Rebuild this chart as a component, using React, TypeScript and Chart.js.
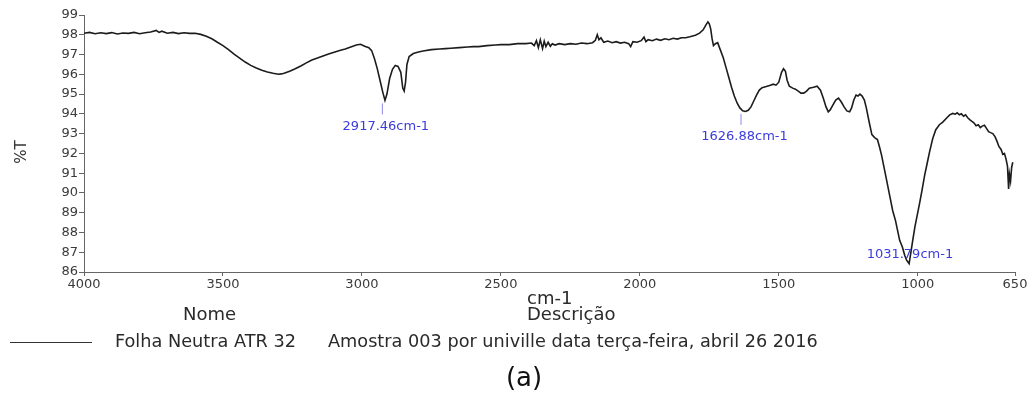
import React, { useEffect, useRef } from "react";
import { Chart, registerables } from "chart.js";

Chart.register(...registerables);

// ---- data ----
const wavenumbers: number[] = [
  4000, 3980, 3960, 3940, 3920, 3900, 3880, 3860, 3840, 3820, 3800, 3780, 3760, 3740, 3730, 3720, 3700, 3680, 3660, 3640,
  3620, 3600, 3580, 3560, 3540, 3520, 3500, 3480, 3460, 3440, 3420, 3400, 3380, 3360, 3340, 3320, 3300, 3290, 3280, 3260,
  3240, 3220, 3200, 3180, 3160, 3140, 3120, 3100, 3080, 3060, 3040, 3020, 3005, 2990, 2975, 2965, 2955, 2945, 2935, 2925,
  2917, 2910, 2900, 2890, 2880, 2870, 2860, 2853, 2848, 2843, 2838, 2830, 2815, 2800, 2780, 2750, 2720, 2700, 2680, 2650,
  2620, 2600, 2580, 2550, 2520, 2500, 2470, 2440, 2410, 2390, 2380, 2372, 2365, 2358, 2350, 2344, 2338, 2330, 2322, 2315,
  2305, 2290, 2270, 2250, 2230, 2210, 2190, 2170, 2160, 2153, 2147, 2140, 2130, 2115, 2100, 2085, 2070, 2055, 2040, 2033,
  2025, 2010, 1995, 1985, 1978, 1970, 1955, 1940, 1925, 1910, 1895, 1880, 1865, 1850, 1835, 1820, 1800, 1785, 1772, 1762,
  1755, 1750, 1745, 1740, 1735, 1728, 1720, 1712, 1700, 1690, 1680, 1670, 1660, 1650, 1640, 1630, 1620, 1610, 1600, 1590,
  1580, 1570, 1560, 1545, 1530, 1520, 1510, 1500, 1490, 1483, 1476, 1470, 1462, 1450, 1440, 1430, 1420, 1410, 1400, 1390,
  1375, 1362, 1350, 1340, 1330, 1322, 1315, 1305, 1295, 1285, 1275, 1265, 1255, 1245, 1238, 1230, 1222, 1215, 1208, 1200,
  1192, 1185, 1175, 1165, 1155, 1145, 1137, 1130, 1120, 1112, 1100, 1090, 1080, 1065, 1055, 1047, 1040, 1031, 1025, 1018,
  1010, 1000, 993, 985, 975, 966, 957, 946, 935, 922, 910, 895, 885, 874, 865, 858, 850, 843, 835, 828,
  820, 812, 805, 798, 790, 782, 775, 768, 760, 752, 745, 738, 730, 722, 715, 708, 700, 694, 688, 682,
  677, 673, 670, 666, 662, 658,
];

const transmittance: number[] = [
  98.08, 98.12, 98.05, 98.1, 98.06, 98.11, 98.04, 98.09, 98.07, 98.12, 98.05, 98.1, 98.14, 98.22, 98.12, 98.18, 98.08, 98.12, 98.06, 98.1,
  98.07, 98.08, 98.02, 97.92, 97.8, 97.62, 97.45, 97.25, 97.02, 96.82, 96.62, 96.45, 96.32, 96.2, 96.12, 96.05, 96.0, 96.02, 96.05, 96.15,
  96.28, 96.42, 96.58, 96.72, 96.82, 96.93, 97.03, 97.12, 97.2, 97.28, 97.38, 97.48, 97.52, 97.42, 97.35, 97.2, 96.8, 96.3, 95.7, 95.1,
  94.68, 95.0, 95.8, 96.25, 96.45, 96.4, 96.1, 95.3, 95.15, 95.6, 96.5, 96.9, 97.05, 97.12, 97.18, 97.25, 97.28, 97.3, 97.32, 97.35,
  97.38, 97.4, 97.4, 97.45, 97.48, 97.5, 97.5, 97.55, 97.55, 97.58, 97.45, 97.7, 97.35, 97.75, 97.3, 97.68, 97.4, 97.62, 97.42, 97.55,
  97.48, 97.55, 97.5, 97.55, 97.52, 97.58, 97.55, 97.6, 97.72, 98.0, 97.75, 97.85, 97.62, 97.68, 97.6, 97.65, 97.58, 97.62, 97.55, 97.4,
  97.65, 97.62, 97.7, 97.88, 97.65, 97.75, 97.7, 97.78, 97.72, 97.8, 97.75, 97.82, 97.78, 97.85, 97.85, 97.9, 97.98, 98.08, 98.25, 98.5,
  98.65, 98.55, 98.3, 97.8, 97.45, 97.55, 97.6, 97.3, 96.85, 96.35, 95.85, 95.35, 94.9, 94.55, 94.3, 94.15, 94.12, 94.18, 94.35, 94.65,
  94.95, 95.2, 95.32, 95.38, 95.45, 95.5, 95.45, 95.6, 96.1, 96.28, 96.15, 95.7, 95.4, 95.3, 95.25, 95.15, 95.05, 95.05, 95.15, 95.3,
  95.35, 95.4, 95.2, 94.8, 94.35, 94.1, 94.2, 94.45, 94.7, 94.8, 94.6, 94.35, 94.15, 94.1, 94.3, 94.7, 94.95, 94.9, 95.0, 94.9,
  94.7, 94.3, 93.6, 92.95, 92.8, 92.7, 92.3, 91.9, 91.2, 90.65, 89.8, 89.1, 88.6, 87.6, 87.25, 86.85, 86.6, 86.42, 86.95, 87.6,
  88.3, 89.0, 89.5, 90.1, 90.9, 91.5, 92.1, 92.75, 93.2, 93.45, 93.58, 93.8, 93.95, 94.02, 93.98, 94.05, 93.95, 94.0, 93.88, 93.95,
  93.8, 93.7, 93.62, 93.55, 93.4, 93.45, 93.3, 93.38, 93.42, 93.25, 93.1, 93.05, 93.0, 92.85, 92.62, 92.35, 92.2, 91.95, 92.0, 91.7,
  91.35, 90.2, 90.95, 90.6, 91.3, 91.55,
];

const xTickValues: number[] = [4000, 3500, 3000, 2500, 2000, 1500, 1000, 650];
const yMin = 86;
const yMax = 99;

const peakWavenumbers: number[] = [2917.46, 1626.88, 1031.79];
const peakLabels: string[] = ["2917.46cm-1", "1626.88cm-1", "1031.79cm-1"];

const yAxisTitle = "%T";
const xAxisTitle = "cm-1";
const nameHeader = "Nome";
const descHeader = "Descrição";
const seriesName = "Folha Neutra ATR 32";
const seriesDesc = "Amostra 003 por univille data terça-feira, abril 26 2016";
const caption = "(a)";

const FONT = '"DejaVu Sans", sans-serif';

const overlayPlugin = {
  id: "overlay",
  afterDraw(chart: any) {
    const { ctx, chartArea, scales } = chart;
    const xs = scales.x;
    const ys = scales.y;
    ctx.save();

    // peak annotations
    ctx.font = `13px ${FONT}`;
    ctx.textAlign = "center";
    ctx.textBaseline = "middle";
    peakWavenumbers.forEach((wn, i) => {
      let best = 0;
      let bestD = Infinity;
      wavenumbers.forEach((w, j) => {
        const d = Math.abs(w - wn);
        if (d < bestD) {
          bestD = d;
          best = j;
        }
      });
      const px = xs.getPixelForValue(wn);
      const py = ys.getPixelForValue(transmittance[best]);
      const lineTop = py + 3;
      const lineBot = lineTop + 11;
      let ty = lineBot + 12;
      if (ty > chartArea.bottom - 8) {
        ty = chartArea.bottom - 17;
      } else {
        ctx.strokeStyle = "#8c8ce8";
        ctx.lineWidth = 1;
        ctx.beginPath();
        ctx.moveTo(px - 2.5, lineTop);
        ctx.lineTo(px - 2.5, lineBot);
        ctx.stroke();
      }
      ctx.fillStyle = "#3c3cde";
      ctx.fillText(peakLabels[i], px + 1, ty);
    });

    // y axis title
    ctx.fillStyle = "#333";
    ctx.font = `15px ${FONT}`;
    ctx.save();
    ctx.translate(22, 152);
    ctx.rotate(-Math.PI / 2);
    ctx.textAlign = "center";
    ctx.textBaseline = "middle";
    ctx.fillText(yAxisTitle, 0, 0);
    ctx.restore();

    // x axis title + header row
    ctx.font = `18px ${FONT}`;
    ctx.textAlign = "left";
    ctx.textBaseline = "middle";
    ctx.fillStyle = "#2a2a2a";
    ctx.fillText(xAxisTitle, 527, 299);
    ctx.fillText(descHeader, 527, 315);
    ctx.fillText(nameHeader, 183, 315);

    // legend row
    ctx.strokeStyle = "#333";
    ctx.lineWidth = 1;
    ctx.beginPath();
    ctx.moveTo(10, 342.5);
    ctx.lineTo(92, 342.5);
    ctx.stroke();
    ctx.font = `17.7px ${FONT}`;
    ctx.fillText(seriesName, 115, 342);
    ctx.fillText(seriesDesc, 328, 342);

    // caption
    ctx.font = `26px ${FONT}`;
    ctx.textAlign = "center";
    ctx.fillStyle = "#111";
    ctx.fillText(caption, 524, 379);

    ctx.restore();
  },
};

export default function App() {
  const canvasRef = useRef<HTMLCanvasElement | null>(null);

  useEffect(() => {
    if (!canvasRef.current) return;
    Chart.defaults.font.family = FONT;
    const points = wavenumbers.map((w, i) => ({ x: w, y: transmittance[i] }));
    const chart = new Chart(canvasRef.current, {
      type: "line",
      data: {
        datasets: [
          {
            label: seriesName,
            data: points,
            borderColor: "#1c1c1c",
            borderWidth: 1.6,
            pointRadius: 0,
            tension: 0,
            fill: false,
          },
        ],
      },
      options: {
        responsive: false,
        animation: false,
        events: [],
        layout: { padding: { top: 15, right: 18, left: 0, bottom: 0 } },
        plugins: {
          legend: { display: false },
          tooltip: { enabled: false },
          title: { display: false },
        },
        scales: {
          x: {
            type: "linear",
            reverse: true,
            min: 650,
            max: 4000,
            afterBuildTicks: (s: any) => {
              s.ticks = xTickValues.map((v) => ({ value: v }));
            },
            afterFit: (s: any) => {
              s.height = 125;
            },
            ticks: {
              autoSkip: false,
              maxRotation: 0,
              padding: 1,
              color: "#3a3a3a",
              font: { size: 13, family: FONT },
              callback: (v: any) => String(v),
            },
            grid: {
              display: true,
              drawOnChartArea: false,
              drawTicks: true,
              tickLength: 4,
              color: "#666",
            },
            border: { display: true, color: "#666", width: 1 },
          },
          y: {
            type: "linear",
            min: yMin,
            max: yMax,
            afterFit: (s: any) => {
              s.width = 84;
            },
            ticks: {
              stepSize: 1,
              padding: 1,
              color: "#3a3a3a",
              font: { size: 13, family: FONT },
            },
            grid: {
              display: true,
              drawOnChartArea: false,
              drawTicks: true,
              tickLength: 5,
              color: "#666",
            },
            border: { display: true, color: "#666", width: 1 },
          },
        },
      },
      plugins: [overlayPlugin],
    });
    return () => chart.destroy();
  }, []);

  return (
    <div style={{ position: "absolute", left: 0, top: 0, width: 1033, height: 397, background: "#fff" }}>
      <canvas ref={canvasRef} width={1033} height={397} style={{ display: "block" }} />
    </div>
  );
}
